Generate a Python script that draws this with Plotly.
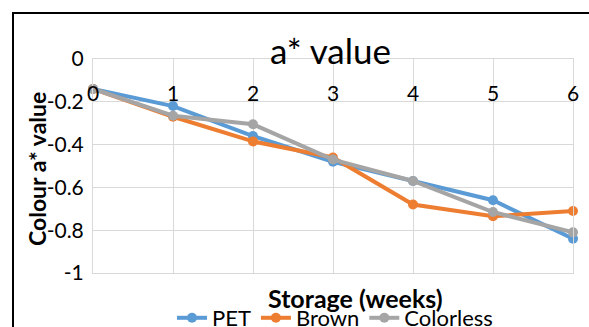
import plotly.graph_objects as go

weeks = [0, 1, 2, 3, 4, 5, 6]
pet = [-0.14, -0.22, -0.36, -0.48, -0.57, -0.66, -0.84]
brown = [-0.14, -0.27, -0.385, -0.46, -0.68, -0.735, -0.71]
colorless = [-0.14, -0.265, -0.305, -0.47, -0.57, -0.715, -0.81]
y_ticks = [0, -0.2, -0.4, -0.6, -0.8, -1]
y_labels = ["0", "-0.2", "-0.4", "-0.6", "-0.8", "-1"]
x_labels = ["0", "1", "2", "3", "4", "5", "6"]

series = [("PET", pet, "#5B9BD5"), ("Brown", brown, "#ED7D31"), ("Colorless", colorless, "#A5A5A5")]

FONT = "Lato, Calibri, Arial, sans-serif"
fig = go.Figure()
for name, vals, col in series:
    fig.add_trace(go.Scatter(x=weeks, y=vals, name=name, mode="lines+markers",
                             line=dict(color=col, width=4), cliponaxis=False,
                             marker=dict(color=col, size=10)))

W, H = 589, 327
L, R, T, B = 93, 573, 59, 273
pw, ph = R - L, B - T

def px(x):
    return (x - L) / pw

def py(y):
    return (B - y) / ph

fig.update_layout(
    width=W, height=H,
    margin=dict(l=L, r=W - R, t=T, b=H - B, pad=0, autoexpand=False),
    paper_bgcolor="white", plot_bgcolor="white",
    font=dict(family=FONT, color="#000000", size=21),
    showlegend=True,
    legend=dict(orientation="h", x=px(335), xanchor="center", y=py(318), yanchor="middle",
                font=dict(size=22, family=FONT), bgcolor="rgba(0,0,0,0)",
                itemwidth=30, tracegroupgap=0),
    xaxis=dict(range=[0, 6], tickvals=weeks, showticklabels=False,
               showgrid=True, gridcolor="#D9D9D9", gridwidth=1,
               showline=True, linecolor="#D9D9D9", mirror=True, zeroline=False, ticks=""),
    yaxis=dict(range=[-1, 0], tickvals=y_ticks, ticktext=y_labels,
               showgrid=True, gridcolor="#D9D9D9", gridwidth=1,
               showline=True, linecolor="#D9D9D9", mirror=True, zeroline=False,
               ticks="", ticklabelstandoff=4, tickfont=dict(size=21, family=FONT)),
)

for w, lab in zip(weeks, x_labels):
    fig.add_annotation(text=lab, xref="x", yref="paper", x=w, y=py(92), showarrow=False,
                       font=dict(size=21, family=FONT), xanchor="center", yanchor="middle")

fig.add_annotation(text="a* value", xref="paper", yref="paper", x=px(330), y=py(50),
                   showarrow=False, font=dict(size=35, family=FONT), xanchor="center", yanchor="middle")
fig.add_annotation(text="<b>Colour a* value</b>", xref="paper", yref="paper", x=px(37), y=py(169),
                   showarrow=False, textangle=-90, font=dict(size=23, family=FONT),
                   xanchor="center", yanchor="middle")
fig.add_annotation(text="<b>Storage (weeks)</b>", xref="paper", yref="paper", x=px(355), y=py(298),
                   showarrow=False, font=dict(size=25, family=FONT), xanchor="center", yanchor="middle")

fig.add_shape(type="rect", xref="paper", yref="paper", x0=px(13), x1=px(610), y0=py(340), y1=py(13),
              line=dict(color="black", width=2), fillcolor="rgba(0,0,0,0)", layer="above")

fig.write_html("out.html", config={"displayModeBar": False},
               post_script="document.body.style.margin='0';document.body.style.overflow='hidden';")
